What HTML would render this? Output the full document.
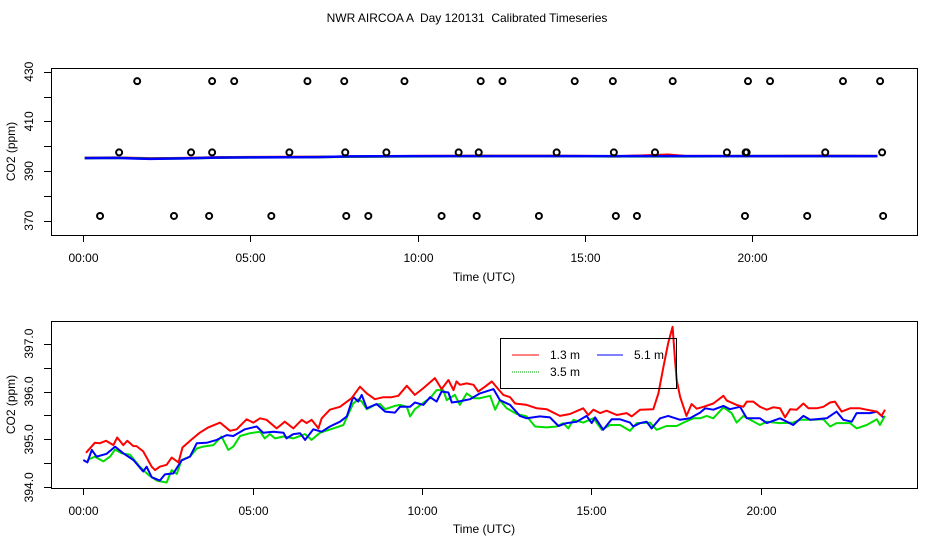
<!DOCTYPE html>
<html><head><meta charset="utf-8"><style>
body{margin:0;background:#fff;}
svg{display:block;font-family:"Liberation Sans",sans-serif;}
</style></head><body>
<svg id="chart" width="936" height="540" viewBox="0 0 936 540" xmlns="http://www.w3.org/2000/svg">
<rect width="936" height="540" fill="#fff"/>
<text x="467" y="22" font-size="12" text-anchor="middle" xml:space="preserve">NWR AIRCOA A  Day 120131  Calibrated Timeseries</text>
<g id="topPanel"></g>
<g id="botPanel"></g>
<g font-size="12">
<rect x="500.5" y="338.5" width="176" height="50" fill="none" stroke="#000"/>
<g><line x1="512" x2="539" y1="355" y2="355" stroke="#ff0000"/><text x="550" y="359">1.3 m</text></g>
<g><line x1="597" x2="623" y1="355" y2="355" stroke="#0000ff"/><text x="634" y="359">5.1 m</text></g>
<g><line x1="512" x2="539" y1="372" y2="372" stroke="#00aa00" stroke-dasharray="1,1"/><text x="550" y="376">3.5 m</text></g>
</g>
</svg>
<script>
const xTickLabels=["00:00","05:00","10:00","15:00","20:00"];
const xTickHours=[0,5,10,15,20];
const topYTicks=[370,380,390,400,410,420,430];
const topYLabels=["370","390","410","430"];
const botYTicks=[394,394.5,395,395.5,396,396.5,397];
const botYLabels=["394.0","395.0","396.0","397.0"];
const seriesNames=["1.3 m","5.1 m","3.5 m"];
const seriesColors=["#ff0000","#0000ff","#00dd00"];

const calHi=[1.62,3.86,4.52,6.71,7.81,9.61,11.89,12.54,14.7,15.84,17.63,19.88,20.54,22.72,23.83];
const calMid=[1.08,3.23,3.86,6.17,7.84,9.07,11.23,11.83,14.16,15.87,17.1,19.25,19.81,19.84,22.19,23.89];
const calLo=[0.51,2.72,3.77,5.63,7.87,8.53,10.72,11.77,13.63,15.93,16.56,19.79,21.65,23.92];
const calHiVal=426.2, calMidVal=397.5, calLoVal=371.9;

const topH=[0.05,1,2,3,4,5,7,8,10,12,14,16,17.5,18,20,22,23.75];
const topRed=[395.3,395.4,395.1,395.2,395.5,395.6,395.7,395.8,396,396.1,396.1,395.9,396.6,396,396,396.1,396];
const topGreen=[395.2,395.3,395,395.1,395.4,395.5,395.6,395.8,395.9,396,396,395.9,395.9,395.9,396,396,396];
const topBlue=[395.2,395.3,394.9,395.1,395.4,395.5,395.6,395.9,396,396,396,396,396,396,396,396,396];

const redH=[0.08,0.34,0.49,0.67,0.89,1.00,1.18,1.30,1.48,1.57,1.77,2.02,2.12,2.26,2.46,2.61,2.81,2.93,3.20,3.44,3.69,4.04,4.33,4.53,4.82,5.02,5.22,5.41,5.71,5.95,6.20,6.45,6.59,6.74,6.94,7.04,7.28,7.58,7.92,8.17,8.37,8.61,8.86,9.10,9.30,9.55,9.79,10.04,10.38,10.58,10.78,10.93,11.02,
11.12,11.32,11.52,11.66,11.86,12.06,12.25,12.40,12.60,12.75,13.09,13.39,13.68,14.07,14.37,14.76,14.91,15.06,15.26,15.45,15.75,16.04,16.19,16.44,16.83,16.98,17.13,17.27,17.40,17.47,17.52,17.62,17.81,17.96,18.11,18.31,18.60,18.90,19.00,19.29,19.49,19.59,19.78,19.98,20.18,20.37,20.57,20.72,20.87,21.06,21.26,21.41,21.65,21.85,22.05,22.19,22.39,22.64,22.93,23.13,23.43,23.57,23.67];
const redV=[394.72,394.93,394.92,394.97,394.88,395.04,394.88,394.97,394.86,394.86,394.75,394.43,394.36,394.43,394.47,394.62,394.52,394.83,395.00,395.14,395.25,395.35,395.18,395.21,395.42,395.35,395.44,395.41,395.23,395.37,395.23,395.41,395.34,395.41,395.23,395.44,395.62,395.68,395.86,396.10,395.96,395.84,395.88,395.88,395.91,396.12,395.93,396.07,396.28,396.05,396.24,396.03,396.21,
396.14,396.17,396.14,396.00,396.10,396.21,396.05,395.93,395.88,395.75,395.72,395.65,395.63,395.49,395.53,395.65,395.51,395.62,395.55,395.60,395.51,395.55,395.48,395.62,395.63,395.96,396.52,397.01,397.35,396.66,396.24,395.89,395.49,395.74,395.64,395.68,395.75,395.91,395.81,395.72,395.68,395.79,395.79,395.68,395.62,395.67,395.65,395.46,395.63,395.62,395.75,395.65,395.65,395.68,395.77,395.79,395.58,395.65,395.65,395.62,395.58,395.49,395.62];

const blueH=[0,0.12,0.25,0.39,0.69,0.94,1.18,1.48,1.77,1.87,2.02,2.26,2.41,2.66,2.90,3.15,3.35,3.64,3.94,4.23,4.43,4.77,5.12,5.31,5.61,5.91,6.00,6.20,6.40,6.55,6.79,7.04,7.28,7.58,7.78,7.97,8.12,8.22,8.37,8.66,8.91,9.20,9.35,9.65,9.79,10.04,10.24,10.43,10.58,10.78,10.88,11.07,
11.42,11.71,12.11,12.30,12.60,12.89,13.09,13.48,13.78,14.03,14.27,14.57,14.86,15.01,15.11,15.35,15.60,15.85,16.14,16.24,16.44,16.63,16.78,17.03,17.27,17.62,17.91,18.21,18.36,18.60,18.90,19.09,19.39,19.59,19.98,20.18,20.57,20.77,20.96,21.26,21.46,21.95,22.24,22.44,22.69,22.83,23.23,23.43,23.62];
const blueV=[394.57,394.52,394.78,394.64,394.70,394.85,394.71,394.57,394.33,394.43,394.21,394.14,394.27,394.29,394.56,394.64,394.92,394.93,394.99,395.09,395.07,395.21,395.27,395.14,395.16,395.14,395.02,395.11,395.13,394.99,395.21,395.16,395.27,395.37,395.48,395.89,395.79,395.93,395.65,395.74,395.58,395.56,395.68,395.68,395.77,395.72,395.88,395.79,396.00,395.98,395.77,395.79,
395.84,395.96,396.05,395.82,395.72,395.49,395.44,395.48,395.46,395.28,395.34,395.37,395.49,395.34,395.46,395.20,395.42,395.42,395.35,395.27,395.34,395.37,395.23,395.44,395.49,395.41,395.44,395.56,395.65,395.62,395.70,395.63,395.68,395.44,395.44,395.34,395.44,395.37,395.30,395.49,395.41,395.44,395.58,395.41,395.37,395.55,395.55,395.58,395.46];

const greenH=[0.12,0.34,0.59,0.79,0.94,1.13,1.38,1.67,1.92,2.17,2.46,2.61,2.76,2.90,3.15,3.35,3.54,3.84,4.08,4.28,4.43,4.63,4.92,5.22,5.36,5.51,5.66,5.91,6.20,6.40,6.55,6.74,6.99,7.38,7.68,7.97,8.12,8.22,8.37,8.61,8.76,8.91,9.20,9.35,9.55,9.65,9.79,10.09,10.24,10.43,10.63,10.73,10.97,11.12,
11.32,11.52,11.71,12.01,12.16,12.30,12.50,12.80,13.09,13.34,13.68,13.98,14.17,14.32,14.47,14.76,15.06,15.31,15.55,15.85,16.14,16.34,16.73,16.93,17.22,17.52,17.72,18.01,18.21,18.41,18.60,18.90,19.14,19.29,19.49,19.69,19.98,20.18,20.57,20.96,21.16,21.56,21.85,22.05,22.24,22.64,22.83,23.13,23.43,23.52,23.67];
const greenV=[394.57,394.64,394.54,394.64,394.79,394.71,394.68,394.43,394.26,394.14,394.10,394.36,394.28,394.57,394.64,394.81,394.85,394.88,395.06,394.78,394.85,395.07,395.13,395.16,395.02,395.11,395.02,395.06,395.02,395.07,395.11,394.99,395.14,395.23,395.30,395.75,395.84,395.79,395.63,395.72,395.74,395.63,395.70,395.72,395.68,395.48,395.63,395.79,395.86,396.03,396.03,395.82,395.93,395.72,
395.96,395.86,395.86,395.91,395.62,395.82,395.65,395.53,395.48,395.27,395.25,395.27,395.34,395.23,395.41,395.35,395.44,395.20,395.30,395.30,395.18,395.34,395.35,395.20,395.28,395.28,395.35,395.44,395.44,395.49,395.44,395.67,395.55,395.35,395.49,395.41,395.30,395.37,395.34,395.35,395.41,395.41,395.42,395.27,395.34,395.34,395.23,395.30,395.42,395.30,395.49];

const NS="http://www.w3.org/2000/svg";
function mk(parent,tag,attrs){const e=document.createElementNS(NS,tag);for(const k in attrs)e.setAttribute(k,attrs[k]);parent.appendChild(e);return e;}

const topX=h=>83+h*33.45;
const topY=v=>220.7-(v-370)*2.483;
const botX=h=>83.3+h*33.87;
const botY=v=>487.3-(v-394)*47.9;

function axes(g,box,xs,ys,yTicks,yLabels,labelY,titleY){
  const r=mk(g,'rect',{x:box[0]+0.5,y:box[1]+0.5,width:box[2]-box[0],height:box[3]-box[1],fill:'none',stroke:'#000','stroke-width':1});
  
  
  xTickHours.forEach((h,i)=>{
    const x=Math.round(xs(h))+0.5;
    const t=mk(g,'line',{x1:x,x2:x,y1:box[3],y2:box[3]+7,stroke:'#000'});
    
    
    const l=mk(g,'text',{x:x,y:labelY,'font-size':12,'text-anchor':'middle'});
    l.textContent=xTickLabels[i];
    
    
  });
  const xt=mk(g,'text',{x:484,y:titleY,'font-size':12,'text-anchor':'middle'});
  xt.textContent='Time (UTC)';
  
  
  yTicks.forEach(v=>{
    const y=Math.round(ys(v))+0.5;
    const t=mk(g,'line',{x1:box[0]-7,x2:box[0],y1:y,y2:y,stroke:'#000'});
    
    
  });
  yLabels.forEach(s=>{
    const y=ys(parseFloat(s));
    const l=mk(g,'text',{x:0,y:0,'font-size':12,'text-anchor':'middle',transform:`translate(33,${y}) rotate(-90)`});
    l.textContent=s;
    
    
  });
  const yt=mk(g,'text',{x:0,y:0,'font-size':12,'text-anchor':'middle',transform:`translate(15,${(box[1]+box[3])/2}) rotate(-90)`});
  yt.textContent='CO2 (ppm)';
  
  
}
function line(g,hs,vs,xs,ys,color,w,name){
  const d=hs.map((h,i)=>(i?'L':'M')+xs(h).toFixed(1)+','+ys(vs[i]).toFixed(1)).join('');
  const p=mk(g,'path',{d:d,fill:'none',stroke:color,'stroke-width':w,'stroke-linejoin':'round'});
  
  
}

const topG=document.getElementById('topPanel');
axes(topG,[51,68,917,235],topX,topY,topYTicks,topYLabels,262,281);
line(topG,topH,topRed,topX,topY,seriesColors[0],2.5,'top-series-1-3m');
line(topG,topH,topGreen,topX,topY,seriesColors[2],2.5,'top-series-3-5m');
line(topG,topH,topBlue,topX,topY,seriesColors[1],2.5,'top-series-5-1m');
[[calHi,calHiVal],[calMid,calMidVal],[calLo,calLoVal]].forEach(([hs,v])=>{
  hs.forEach(h=>{
    const c=mk(topG,'circle',{cx:topX(h),cy:topY(v),r:3,fill:'none',stroke:'#000','stroke-width':2});
    
    
  });
});

const botG=document.getElementById('botPanel');
axes(botG,[51,321,917,488],botX,botY,botYTicks,botYLabels,515,533);
line(botG,greenH,greenV,botX,botY,seriesColors[2],2,'series-3-5m');
line(botG,blueH,blueV,botX,botY,seriesColors[1],2,'series-5-1m');
line(botG,redH,redV,botX,botY,seriesColors[0],2,'series-1-3m');
</script>
</body></html>
